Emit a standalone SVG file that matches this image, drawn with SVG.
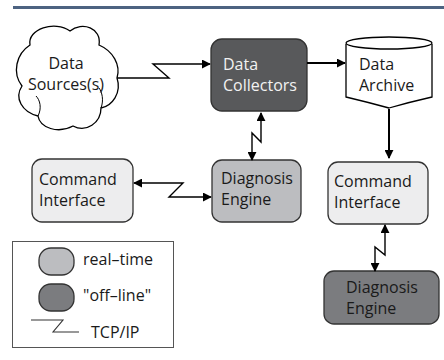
<svg xmlns="http://www.w3.org/2000/svg" width="444" height="360" viewBox="0 0 444 360">
  <style>
    .lbl { font-family: "Open Sans", "Liberation Sans", sans-serif; font-size: 16px; fill: #1a1a1a; }
    .lbl-light { fill: #f2f2f2; }
    .box { stroke: #333; stroke-width: 1.3; }
    .rt { fill: #bcbdc0; }
    .off { fill: #7b7c7f; }
    .ui { fill: #ededee; }
    .coll { fill: #58595b; }
    .wire { fill: none; stroke: #000; stroke-width: 1.4; }
    .thick { fill: none; stroke: #000; stroke-width: 2; }
  </style>
  <defs>
    <marker id="tip" viewBox="0 0 10 10" refX="9" refY="5" markerWidth="9" markerHeight="9" markerUnits="userSpaceOnUse" orient="auto-start-reverse">
      <path d="M0,0 L10,5 L0,10 Z" fill="#000"/>
    </marker>
  </defs>

  <rect width="444" height="360" fill="#fff"/>
  <!-- header rule -->
  <rect x="13" y="6" width="431" height="3" fill="#4d6381"/>

  <!-- nodes -->
  <g id="data-sources">
    <path d="M30,45 C27,29 55,20 70,31 C82,21 102,28 99,45 C113,51 121,65 117,78 C122,93 112,106 101,108 C101,123 86,133 73,126 C58,134 40,128 38,116 C22,112 14,98 22,86 C12,73 16,54 30,45 Z" fill="#fff" stroke="#000" stroke-width="1.3"/>
    <path d="M38,116 C42,108 40,100 36,96 M101,108 C104,100 102,92 99,88" fill="none" stroke="#000" stroke-width="1"/>
    <text class="lbl" x="66" y="69" text-anchor="middle">Data</text>
    <text class="lbl" x="66" y="90" text-anchor="middle">Sources(s)</text>
  </g>

  <g id="data-collectors">
    <rect class="box coll" x="211" y="39" width="96" height="72" rx="11"/>
    <text class="lbl lbl-light" x="223" y="70">Data</text>
    <text class="lbl lbl-light" x="223" y="91">Collectors</text>
  </g>

  <g id="data-archive">
    <path d="M346,44 V97 Q367,102 389,108 Q410,102 432,97 V44" fill="#fff" stroke="#000" stroke-width="1.3"/>
    <ellipse cx="389" cy="43" rx="43" ry="6" fill="#fff" stroke="#000" stroke-width="1.3"/>
    <text class="lbl" x="359" y="70">Data</text>
    <text class="lbl" x="359" y="91">Archive</text>
  </g>

  <g id="command-interface-rt">
    <rect class="box ui" x="32" y="159" width="101" height="63" rx="10"/>
    <text class="lbl" x="39" y="185">Command</text>
    <text class="lbl" x="39" y="206">Interface</text>
  </g>

  <g id="diagnosis-engine-rt">
    <rect class="box rt" x="212" y="160" width="89" height="62" rx="10"/>
    <text class="lbl" x="221" y="184">Diagnosis</text>
    <text class="lbl" x="221" y="205">Engine</text>
  </g>

  <g id="command-interface-off">
    <rect class="box ui" x="328" y="162" width="100" height="62" rx="10"/>
    <text class="lbl" x="334" y="187">Command</text>
    <text class="lbl" x="334" y="208">Interface</text>
  </g>

  <g id="diagnosis-engine-off">
    <rect class="box off" x="324" y="271" width="115" height="53" rx="10"/>
    <text class="lbl" x="346" y="293">Diagnosis</text>
    <text class="lbl" x="346" y="314">Engine</text>
  </g>

  <!-- connectors -->
  <g id="connectors">
    <path class="wire" d="M117,78 H169 L153,64 H210" marker-end="url(#tip)"/>
    <path class="thick" d="M307,63 H345" marker-end="url(#tip)"/>
    <path class="thick" d="M389,109 V158" marker-end="url(#tip)"/>
    <path class="wire" d="M261,113 V142 L252,133 V160" marker-start="url(#tip)" marker-end="url(#tip)"/>
    <path class="wire" d="M134,183 H183 L169,197 H211" marker-start="url(#tip)" marker-end="url(#tip)"/>
    <path class="wire" d="M385,225 V255 L375,247 V271" marker-start="url(#tip)" marker-end="url(#tip)"/>
  </g>

  <!-- legend -->
  <g id="legend">
    <rect x="12.5" y="241.5" width="161" height="106" fill="#fff" stroke="#555" stroke-width="1"/>
    <rect class="box rt" x="39" y="248" width="35" height="27" rx="12"/>
    <text class="lbl" x="83" y="265">real–time</text>
    <rect class="box off" x="39" y="284" width="35" height="27" rx="12"/>
    <text class="lbl" x="83" y="301">"off–line"</text>
    <path d="M31,320 H63 L53,332 H79" fill="none" stroke="#333" stroke-width="1.1"/>
    <text class="lbl" x="91" y="338">TCP/IP</text>
  </g>
</svg>
